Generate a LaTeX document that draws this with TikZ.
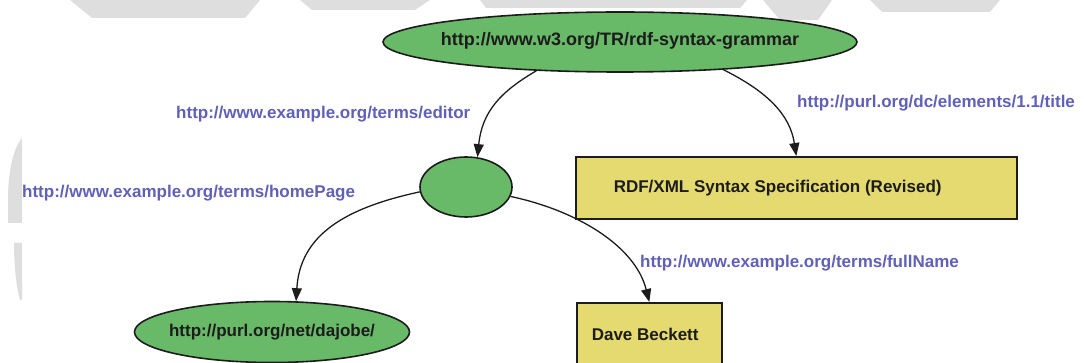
\documentclass[tikz,border=0pt]{standalone}
\usepackage{fontspec}
\setmainfont{Liberation Sans}
\usetikzlibrary{arrows.meta,shapes.geometric}
\definecolor{resgreen}{RGB}{104,185,104}
\definecolor{lityellow}{RGB}{228,218,112}
\definecolor{propblue}{RGB}{96,96,184}
\definecolor{inkdark}{RGB}{28,28,28}
\definecolor{wmgray}{RGB}{222,222,222}
\begin{document}
\begin{tikzpicture}[x=1pt,y=-1pt,
  res/.style={ellipse,draw=inkdark,line width=1.6pt,fill=resgreen,inner sep=0pt,text=inkdark,font=\fontsize{17}{20}\selectfont\bfseries},
  lit/.style={rectangle,draw=inkdark,line width=1.6pt,fill=lityellow,inner sep=0pt,text=inkdark,font=\fontsize{17}{20}\selectfont\bfseries},
  prop/.style={text=propblue,inner sep=0pt,font=\fontsize{17}{20}\selectfont\bfseries},
  edge/.style={draw=inkdark,line width=1.3pt,-{Triangle[length=13pt,width=10pt]}},
  wm/.style={fill=wmgray,draw=none}]
\useasboundingbox (0,0) rectangle (1084,363);
\clip (0,0) rectangle (1084,363);
% watermark
\path[wm] (70,0) -- (260,0) -- (245,18) -- (92,18) -- cycle;
\path[wm] (300,0) -- (430,0) -- (415,10) -- (312,10) -- cycle;
\path[wm] (480,0) -- (747,0) -- (740,8) -- (486,8) -- cycle;
\path[wm] (763,0) -- (832,0) -- (818,20) -- (780,20) -- cycle;
\path[wm] (870,0) -- (1000,0) -- (990,12) -- (882,12) -- cycle;
\path[wm] (22,138) .. controls (12,150) and (8,175) .. (8,200) -- (8,223) -- (22,223) -- cycle;
\path[wm] (22,243) -- (22,300) -- (20,300) .. controls (16,285) and (14,265) .. (14,243) -- cycle;
% nodes
\node[res,minimum width=474pt,minimum height=60pt] (top) at (620,42)
  {\makebox[0pt]{\raisebox{7pt}{\fontsize{18}{21}\selectfont http://www.w3.org/TR/rdf-syntax-grammar}}};
\node[res,minimum width=92pt,minimum height=60pt] (blank) at (466,187) {\makebox[0pt]{}};
\node[res,minimum width=275pt,minimum height=61pt] (dajobe) at (272,332)
  {\makebox[0pt]{http://purl.org/net/dajobe/}};
\node[lit,anchor=north west,minimum width=441pt,minimum height=62pt] (rdf) at (575,156)
  {\makebox[441pt][l]{\hspace{38pt}\raisebox{-4pt}{RDF/XML Syntax Specification (Revised)}}};
\node[lit,anchor=north west,minimum width=145pt,minimum height=64pt] (dave) at (576,302)
  {\makebox[145pt][l]{\hspace{15pt}Dave Beckett}};
% property labels
\node[prop,anchor=base west] (leditor) at (176,119) {http://www.example.org/terms/editor};
\node[prop,anchor=base west] (ltitle) at (797,108) {http://purl.org/dc/elements/1.1/title};
\node[prop,anchor=base west] (lhome) at (22,198) {http://www.example.org/terms/homePage};
\node[prop,anchor=base west] (lfull) at (640,268) {http://www.example.org/terms/fullName};
% connectors
\draw[edge] (top.199) .. controls (500,92) and (482,112) .. (blank.69);
\draw[edge] (top.345) .. controls (768,92) and (790,115) .. (rdf.north);
\draw[edge] (blank.186) .. controls (345,208) and (300,235) .. (dajobe.52);
\draw[edge] (blank.348) .. controls (575,210) and (635,245) .. (dave.north);
\end{tikzpicture}
\end{document}
